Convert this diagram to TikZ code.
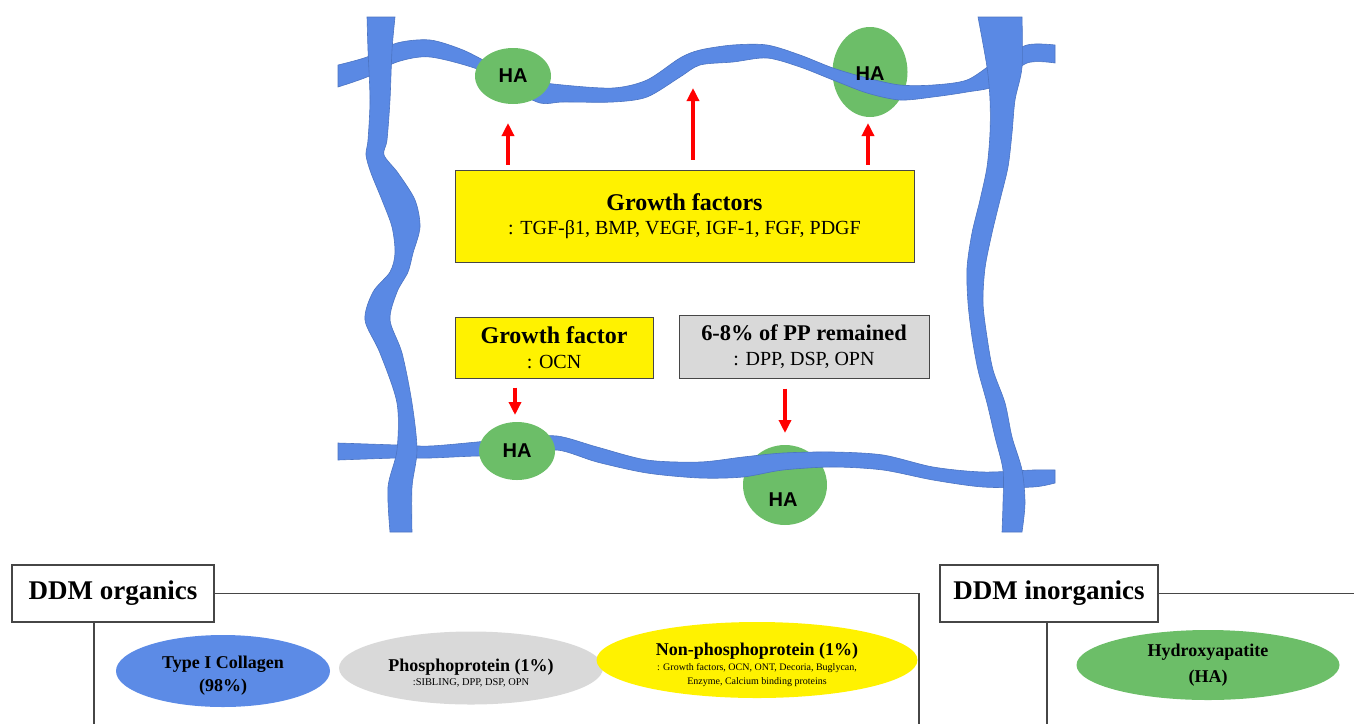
\documentclass[tikz,border=0pt]{standalone}
\usepackage{fontspec}
\setmainfont{Liberation Serif}
\newfontfamily\hafont{Liberation Sans}
\usepackage{tikz}
\usetikzlibrary{shapes.geometric,arrows.meta,positioning,calc}

\definecolor{fibreblue}{RGB}{90,137,228}
\definecolor{hagreen}{RGB}{108,190,104}
\definecolor{boxgray}{RGB}{217,217,217}
\definecolor{collblue}{RGB}{92,139,230}
\definecolor{framegray}{RGB}{70,70,70}

\begin{document}
\begin{tikzpicture}[x=0.5pt,y=-0.5pt,
    fibre/.style={fill=fibreblue, draw=fibreblue!85!black, line width=0.3pt},
    hanode/.style={ellipse, fill=hagreen, inner sep=0pt, font=\hafont\bfseries\fontsize{10}{12}\selectfont},
    hatext/.style={inner sep=0pt, font=\hafont\bfseries\fontsize{10}{12}\selectfont},
    infobox/.style={draw=framegray, line width=0.5pt, inner sep=0pt, align=center},
    redarrow/.style={draw=red, line width=1.7pt, -{Triangle[length=6.5pt,width=6pt]}},
    headbox/.style={draw=framegray, line width=0.6pt, fill=white, minimum height=28.5pt, font=\bfseries\fontsize{13.5}{14}\selectfont},
    frameline/.style={draw=framegray, line width=0.6pt},
    blob/.style={ellipse, inner sep=0pt},
    blobtext/.style={inner sep=0pt, align=center}]
    \useasboundingbox (0,0) rectangle (1354,724);

    % HA lying under the fibres
    \node[hanode, minimum width=37.5pt, minimum height=45pt] (ha2) at (870,72) {};
    \node[hanode, minimum width=42pt, minimum height=40pt] (ha4) at (785,485) {};

    % Fibres
    \fill[fibre] plot[smooth] coordinates {(338,65) (367,57) (397,43) (430,40) (463,50) (495,66) (530,80) (563,85) (613,88) (647,80) (680,58) (700,50) (733,45) (767,45) (800,55) (833,68) (867,78) (900,85) (933,85) (967,80) (995,62) (1027,45) (1055,45)}
        -- plot[smooth] coordinates {(1055,63) (1027,63) (995,86) (967,92) (933,97) (900,100) (867,93) (833,80) (800,67) (767,58) (733,62) (700,65) (680,77) (647,97) (613,102) (563,102) (540,103) (510,88) (480,70) (430,57) (397,62) (367,77) (338,87)} -- cycle;
    \fill[fibre] plot[smooth] coordinates {(338,443) (397,445) (430,446) (477,442) (517,438) (557,436) (597,447) (647,460) (700,462) (743,457) (783,453) (833,452) (883,455) (933,467) (983,472) (1033,470) (1055,470)}
        -- plot[smooth] coordinates {(1055,483) (1033,487) (983,487) (933,480) (883,470) (833,467) (783,470) (743,477) (700,478) (647,473) (597,462) (557,450) (517,456) (477,456) (430,458) (397,458) (338,460)} -- cycle;
    \fill[fibre] plot[smooth] coordinates {(367,17) (368,50) (370,100) (368,140) (366,155) (371,173) (382,200) (392,227) (395,253) (390,272) (373,292) (365,320) (380,353) (397,403) (397,450) (388,487) (390,532)}
        -- plot[smooth] coordinates {(412,532) (412,487) (417,450) (412,403) (402,353) (390,320) (397,292) (408,272) (413,253) (420,227) (415,200) (398,173) (384,155) (387,140) (390,100) (392,50) (395,17)} -- cycle;
    \fill[fibre] plot[smooth] coordinates {(978,17) (987,67) (990,100) (990,133) (987,167) (980,200) (972,233) (967,268) (968,303) (972,337) (978,370) (987,403) (995,437) (1003,470) (1003,503) (1002,532)}
        -- plot[smooth] coordinates {(1022,532) (1025,503) (1022,470) (1012,437) (1005,403) (993,370) (987,337) (983,303) (985,268) (992,233) (1000,200) (1008,167) (1012,133) (1015,100) (1022,67) (1022,17)} -- cycle;

    % HA on top of the fibres
    \node[hanode, minimum width=38pt, minimum height=28pt] (ha1) at (513,76) {HA};
    \node[hanode, minimum width=38pt, minimum height=29pt] (ha3) at (517,451) {HA};
    \node[hatext] (ha2l) at (870,74) {HA};
    \node[hatext] (ha4l) at (783,500) {HA};

    % Boxes
    \node[infobox, fill=yellow, minimum width=229.5pt, minimum height=46pt, font=\fontsize{12}{12}\selectfont] (gf) at (684.5,216)
        {{\bfseries Growth factors}\\{\fontsize{10}{12}\selectfont : TGF-β1, BMP, VEGF, IGF-1, FGF, PDGF}};
    \node[infobox, fill=yellow, minimum width=99pt, minimum height=30.5pt, font=\fontsize{12}{12.5}\selectfont] (ocn) at (554,347.5)
        {{\bfseries Growth factor}\\{\fontsize{10}{12}\selectfont : OCN}};
    \node[infobox, fill=boxgray, minimum width=125pt, minimum height=31.5pt, font=\fontsize{11.2}{12.5}\selectfont] (pp) at (804,346.5)
        {{\bfseries 6-8\% of PP remained}\\{\fontsize{10}{12}\selectfont : DPP, DSP, OPN}};

    % Arrows
    \coordinate (up1) at (508,123);
    \coordinate (up2) at (693,88);
    \coordinate (up3) at (868,123);
    \coordinate (dn1) at (515,415);
    \coordinate (dn2) at (785,433);
    \draw[redarrow, shorten <=2.5pt] (gf.north -| up1) -- (up1);
    \draw[redarrow, shorten <=5pt] (gf.north -| up2) -- (up2);
    \draw[redarrow, shorten <=2.5pt] (gf.north -| up3) -- (up3);
    \draw[redarrow, shorten <=4.5pt] (ocn.south -| dn1) -- (dn1);
    \draw[redarrow, shorten <=5pt] (pp.south -| dn2) -- (dn2);

    % DDM organics
    \node[headbox, minimum width=101pt] (org) at (113,593.5) {DDM organics};
    \coordinate (orgcorner) at (919,593.5);
    \coordinate (orgend) at (919,724);
    \coordinate (orgstem) at (94,724);
    \draw[frameline] (org.east) -- (orgcorner) -- (orgend);
    \draw[frameline] (org.south -| orgstem) -- (orgstem);
    \node[blob, fill=collblue, minimum width=107pt, minimum height=36pt] (coll) at (223,671) {};
    \node[blobtext, font=\bfseries\fontsize{9}{11.5}\selectfont] (collt) at ([yshift=-2.5pt]coll.center) {Type I Collagen\\(98\%)};
    \node[blob, fill=boxgray, minimum width=132pt, minimum height=36.5pt] (phos) at (471,668) {};
    \node[blobtext, font=\fontsize{9}{6.7}\selectfont] (phost) at ([yshift=-2.5pt]phos.center)
        {{\bfseries Phosphoprotein (1\%)}\\{\fontsize{5.2}{6}\selectfont :SIBLING, DPP, DSP, OPN}};
    \node[blob, fill=yellow, minimum width=160.5pt, minimum height=38pt] (nonp) at (757,660) {};
    \node[blobtext, font=\fontsize{9}{7.2}\selectfont] (nonpt) at ([yshift=-2.5pt]nonp.center)
        {{\bfseries Non-phosphoprotein (1\%)}\\{\fontsize{5}{6}\selectfont : Growth factors, OCN, ONT, Decoria, Buglycan,}\\{\fontsize{5}{6}\selectfont Enzyme, Calcium binding proteins}};

    % DDM inorganics
    \node[headbox, minimum width=109pt] (inorg) at (1049,593.5) {DDM inorganics};
    \coordinate (inorgend) at (1354,593.5);
    \coordinate (inorgstem) at (1047,724);
    \draw[frameline] (inorg.east) -- (inorgend);
    \draw[frameline] (inorg.south -| inorgstem) -- (inorgstem);
    \node[blob, fill=hagreen, minimum width=131.5pt, minimum height=35pt] (hyd) at (1208,665) {};
    \node[blobtext, font=\bfseries\fontsize{9}{13}\selectfont] (hydt) at (hyd.center) {Hydroxyapatite\\(HA)};
\end{tikzpicture}
\end{document}
